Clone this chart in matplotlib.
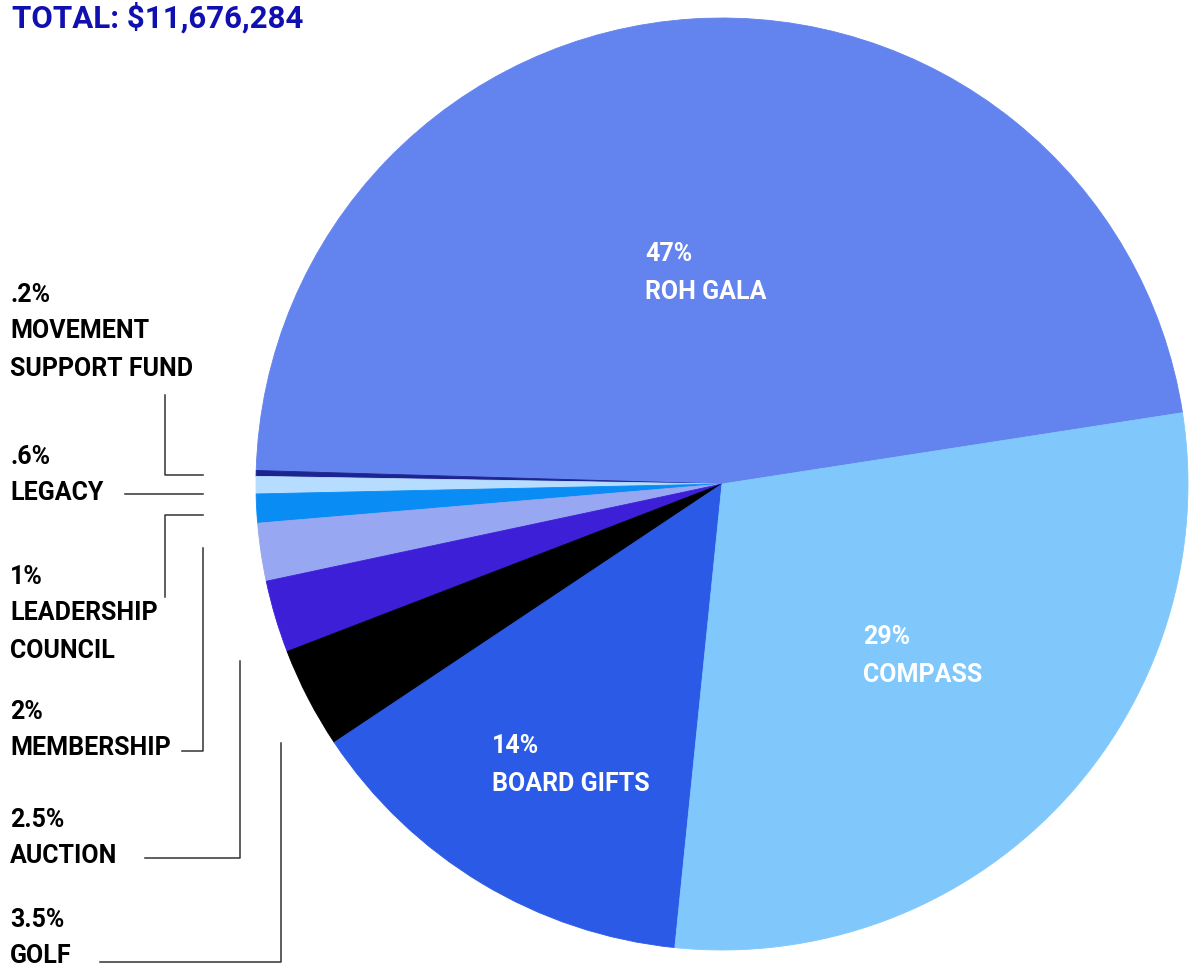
import matplotlib.pyplot as plt
from matplotlib.lines import Line2D

W, H = 1189, 973

# slices, counter-clockwise starting at ROH GALA
labels = ["ROH GALA", "MOVEMENT\nSUPPORT FUND", "LEGACY", "LEADERSHIP\nCOUNCIL",
          "MEMBERSHIP", "AUCTION", "GOLF", "BOARD GIFTS", "COMPASS"]
values = [47, 0.2, 0.6, 1, 2, 2.5, 3.5, 14, 29]
pct_text = ["47%", ".2%", ".6%", "1%", "2%", "2.5%", "3.5%", "14%", "29%"]
colors = ["#6383ee", "#1c2490", "#b6ddff", "#0a8cf5", "#97a7f1",
          "#3d1fd8", "#000000", "#2a5ae6", "#80c8fc"]
total_text = "TOTAL: $11,676,284"

plt.rcParams['font.family'] = ['Roboto', 'DejaVu Sans']

fig = plt.figure(figsize=(W / 100, H / 100), dpi=100)
ax = fig.add_axes([0, 0, 1, 1])

def py(y):
    # pixel row (from top) -> data y
    return H - y

wedges, _ = ax.pie(values, colors=colors, startangle=8.8, counterclock=True,
                   center=(722, py(484)), radius=466,
                   wedgeprops=dict(linewidth=0.6))
for w, c in zip(wedges, colors):
    w.set_edgecolor(c)
ax.set_xlim(0, W)
ax.set_ylim(0, H)
ax.set_aspect("equal")
ax.axis("off")

ax.text(12, py(18), total_text, color="#1010b0", fontsize=22.5, fontweight="bold",
        va="center", ha="left")

FS = 18
# labels inside the big slices
inner = {0: (645, 254), 8: (863, 637), 7: (492, 746)}
for i, (x, y) in inner.items():
    ax.text(x, py(y), pct_text[i], color="white", fontsize=FS, fontweight="bold",
            va="center", ha="left")
    ax.text(x, py(y + 38), labels[i], color="white", fontsize=FS, fontweight="bold",
            va="center", ha="left")

# labels on the left (pixel row of the percentage line)
side = {1: 295, 2: 457, 3: 577, 4: 712, 5: 820, 6: 920}
for i, y in side.items():
    ax.text(10, py(y), pct_text[i], color="black", fontsize=FS, fontweight="bold",
            va="center", ha="left")
    for k, line in enumerate(labels[i].split("\n")):
        ax.text(10, py(y + 36 + 38 * k), line, color="black", fontsize=FS,
                fontweight="bold", va="center", ha="left")

# leader lines (pixel coordinates)
leaders = [
    [(165, 395), (165, 475), (203, 475)],
    [(125, 494), (203, 494)],
    [(203, 515), (165, 515), (165, 597)],
    [(203, 548), (203, 751), (182, 751)],
    [(240, 661), (240, 858), (145, 858)],
    [(281, 743), (281, 962), (100, 962)],
]
for pts in leaders:
    xs = [p[0] for p in pts]
    ys = [py(p[1]) for p in pts]
    ax.add_line(Line2D(xs, ys, color="#333333", linewidth=1.1))

fig.savefig("out.png", dpi=100)
